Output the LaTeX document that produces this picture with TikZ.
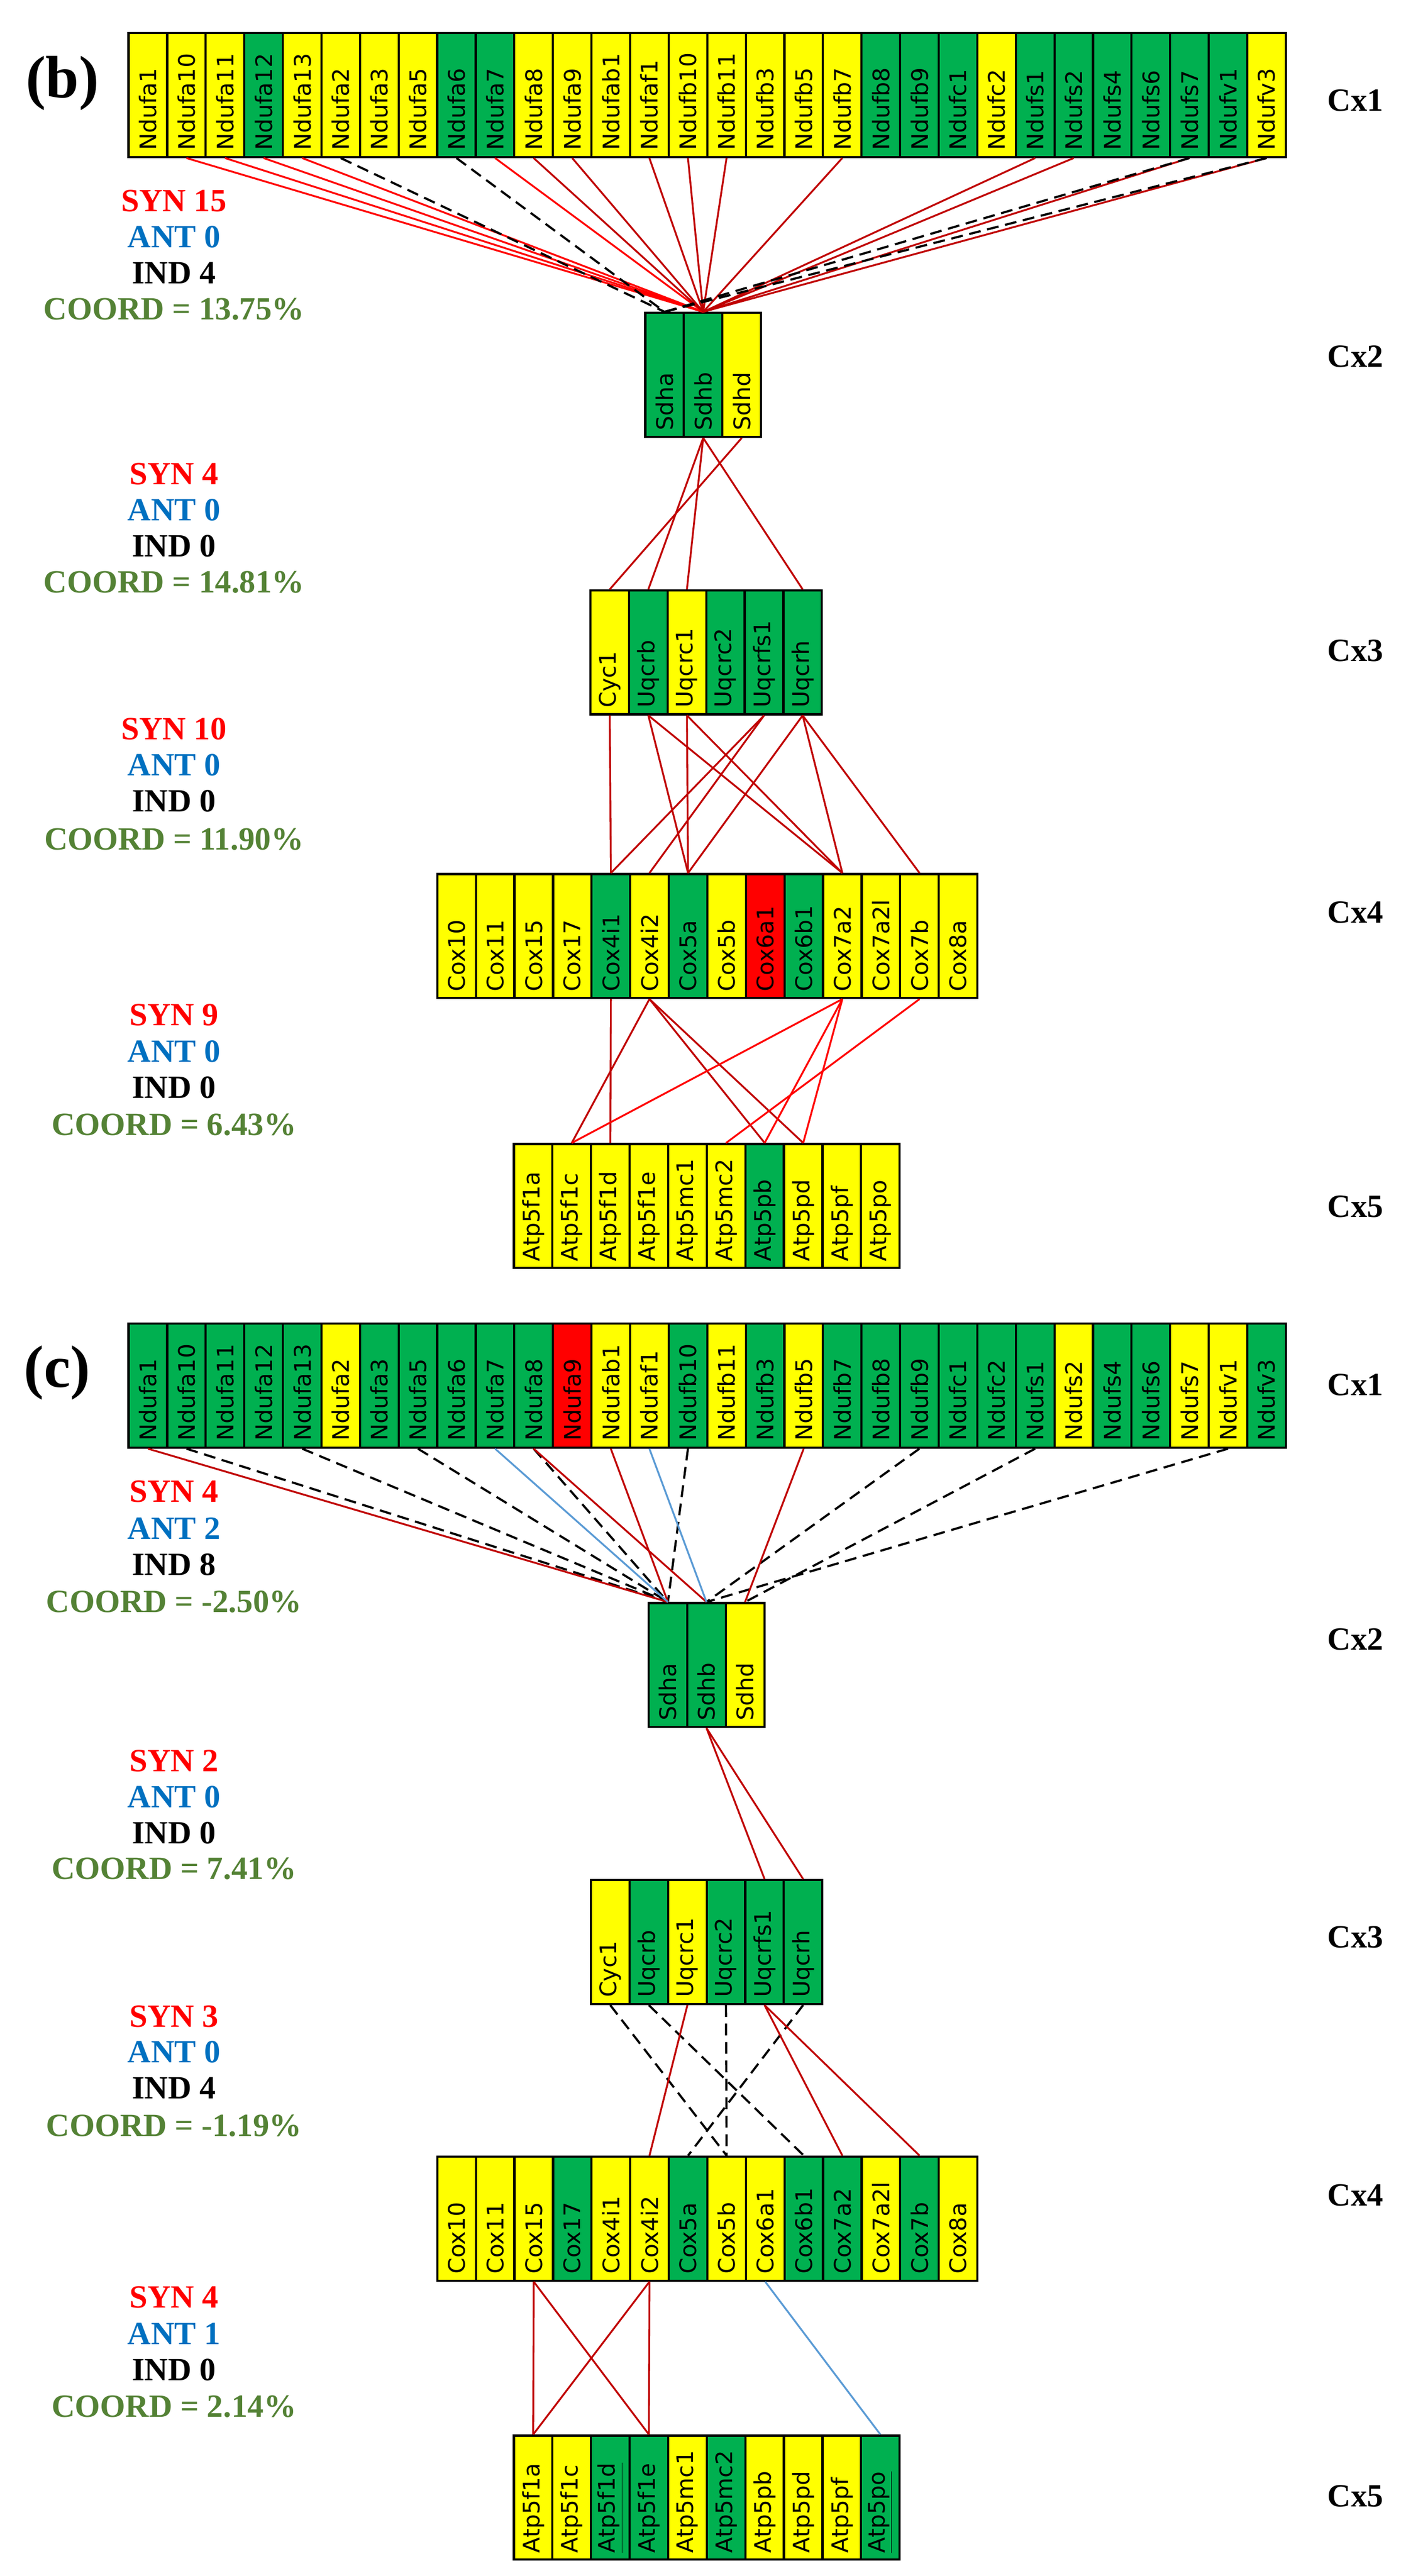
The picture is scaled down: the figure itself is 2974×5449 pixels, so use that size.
\documentclass[tikz,border=0pt]{standalone}
\usepackage{fontspec}
\setmainfont{Liberation Serif}
\newfontfamily\cellfont{DejaVu Sans}
\begin{document}
\definecolor{cY}{HTML}{FFFF00}
\definecolor{cG}{HTML}{00B050}
\definecolor{cR}{HTML}{FF0000}
\definecolor{dRed}{HTML}{C00000}
\definecolor{bRed}{HTML}{FF0000}
\definecolor{antB}{HTML}{5B9BD5}
\definecolor{antT}{HTML}{0070C0}
\definecolor{coordG}{HTML}{548235}
\newcommand\cxrow[4]{%
  \foreach \col/\lab [count=\i] in {#4} {
    \node[cell,fill=\col] (#1-\i) at ({#2+81.6*(\i-0.5)},{#3+131}) {\rotatebox{90}{\makebox[2.34cm][l]{\lab}}};
  }}
\begin{tikzpicture}[x=0.01cm,y=-0.01cm,
  cell/.style={draw,line width=1.3pt,minimum width=0.816cm,minimum height=2.62cm,inner sep=0pt,
    font=\cellfont\fontsize{13.7}{15}\selectfont},
  stat/.style={font=\bfseries\fontsize{19.5}{22}\selectfont,inner sep=0pt},
  cx/.style={font=\bfseries\fontsize{19.5}{22}\selectfont,inner sep=0pt},
  panel/.style={font=\bfseries\fontsize{36}{40}\selectfont,inner sep=0pt},
  syn/.style={dRed,line width=1.1pt},
  synb/.style={bRed,line width=1.1pt},
  ant/.style={antB,line width=1.1pt},
  ind/.style={black,line width=1.3pt,dash pattern=on 0.25cm off 0.14cm}]
\useasboundingbox (0,0) rectangle (2974,5449);

% ---------------- panel (b) ----------------
\node[panel] (pb) at (132,176) {(b)};
\cxrow{b1}{272}{70}{cY/Ndufa1,cY/Ndufa10,cY/Ndufa11,cG/Ndufa12,cY/Ndufa13,cY/Ndufa2,cY/Ndufa3,cY/Ndufa5,cG/Ndufa6,cG/Ndufa7,cY/Ndufa8,cY/Ndufa9,cY/Ndufab1,cY/Ndufaf1,cY/Ndufb10,cY/Ndufb11,cY/Ndufb3,cY/Ndufb5,cY/Ndufb7,cG/Ndufb8,cG/Ndufb9,cG/Ndufc1,cY/Ndufc2,cG/Ndufs1,cG/Ndufs2,cG/Ndufs4,cG/Ndufs6,cG/Ndufs7,cG/Ndufv1,cY/Ndufv3}
\cxrow{b2}{1365}{662}{cG/Sdha,cG/Sdhb,cY/Sdhd}
\cxrow{b3}{1249}{1249}{cY/Cyc1,cG/Uqcrb,cY/Uqcrc1,cG/Uqcrc2,cG/Uqcrfs1,cG/Uqcrh}
\cxrow{b4}{925}{1849}{cY/Cox10,cY/Cox11,cY/Cox15,cY/Cox17,cG/Cox4i1,cY/Cox4i2,cG/Cox5a,cY/Cox5b,cR/Cox6a1,cG/Cox6b1,cY/Cox7a2,cY/Cox7a2l,cY/Cox7b,cY/Cox8a}
\cxrow{b5}{1087}{2420}{cY/Atp5f1a,cY/Atp5f1c,cY/Atp5f1d,cY/Atp5f1e,cY/Atp5mc1,cY/Atp5mc2,cG/Atp5pb,cY/Atp5pd,cY/Atp5pf,cY/Atp5po}

\foreach \k in {2,3,4,5,10} \draw[synb] (b1-\k.south) -- (b2-2.north);
\foreach \k in {11,12,14,15,16,19,24,25,28,30} \draw[syn] (b1-\k.south) -- (b2-2.north);
\foreach \k in {6,9,28,30} \draw[ind] (b1-\k.south) -- (b2-1.north);

\draw[syn] (b2-3.south) -- (b3-1.north);
\foreach \k in {2,3,6} \draw[syn] (b2-2.south) -- (b3-\k.north);

\draw[syn] (b3-1.south) -- (b4-5.north);
\foreach \a/\b in {2/7,2/11,3/7,3/11,5/5,5/6,6/7,6/11,6/13} \draw[syn] (b3-\a.south) -- (b4-\b.north);

\draw[syn] (b4-5.south) -- (b5-3.north);
\foreach \k in {2,7,8} \draw[syn] (b4-6.south) -- (b5-\k.north);
\foreach \k in {2,7,8} \draw[synb] (b4-11.south) -- (b5-\k.north);
\draw[synb] (b4-13.south) -- (b5-6.north);

\node[stat,text=bRed] (bs1) at (368,425) {SYN 15};
\node[stat,text=antT] (ba1) at (368,501) {ANT 0};
\node[stat] (bi1) at (368,577) {IND 4};
\node[stat,text=coordG] (bc1) at (368,654) {COORD = 13.75\%};
\node[stat,text=bRed] (bs2) at (368,1003) {SYN 4};
\node[stat,text=antT] (ba2) at (368,1079) {ANT 0};
\node[stat] (bi2) at (368,1155) {IND 0};
\node[stat,text=coordG] (bc2) at (368,1231) {COORD = 14.81\%};
\node[stat,text=bRed] (bs3) at (368,1542) {SYN 10};
\node[stat,text=antT] (ba3) at (368,1618) {ANT 0};
\node[stat] (bi3) at (368,1694) {IND 0};
\node[stat,text=coordG] (bc3) at (368,1775) {COORD = 11.90\%};
\node[stat,text=bRed] (bs4) at (368,2147) {SYN 9};
\node[stat,text=antT] (ba4) at (368,2224) {ANT 0};
\node[stat] (bi4) at (368,2300) {IND 0};
\node[stat,text=coordG] (bc4) at (368,2379) {COORD = 6.43\%};

\node[cx] (bx1) at (2867,213) {Cx1};
\node[cx] (bx2) at (2867,754) {Cx2};
\node[cx] (bx3) at (2867,1376) {Cx3};
\node[cx] (bx4) at (2867,1930) {Cx4};
\node[cx] (bx5) at (2867,2552) {Cx5};

% ---------------- panel (c) ----------------
\node[panel] (pc) at (121,2904) {(c)};
\cxrow{c1}{272}{2800}{cG/Ndufa1,cG/Ndufa10,cG/Ndufa11,cG/Ndufa12,cG/Ndufa13,cY/Ndufa2,cG/Ndufa3,cG/Ndufa5,cG/Ndufa6,cG/Ndufa7,cG/Ndufa8,cR/Ndufa9,cY/Ndufab1,cY/Ndufaf1,cG/Ndufb10,cY/Ndufb11,cG/Ndufb3,cY/Ndufb5,cG/Ndufb7,cG/Ndufb8,cG/Ndufb9,cG/Ndufc1,cG/Ndufc2,cG/Ndufs1,cY/Ndufs2,cG/Ndufs4,cG/Ndufs6,cY/Ndufs7,cY/Ndufv1,cG/Ndufv3}
\cxrow{c2}{1372}{3391}{cG/Sdha,cG/Sdhb,cY/Sdhd}
\cxrow{c3}{1250}{3977}{cY/Cyc1,cG/Uqcrb,cY/Uqcrc1,cG/Uqcrc2,cG/Uqcrfs1,cG/Uqcrh}
\cxrow{c4}{925}{4562}{cY/Cox10,cY/Cox11,cY/Cox15,cG/Cox17,cY/Cox4i1,cY/Cox4i2,cG/Cox5a,cY/Cox5b,cY/Cox6a1,cG/Cox6b1,cG/Cox7a2,cY/Cox7a2l,cG/Cox7b,cY/Cox8a}
\cxrow{c5}{1087}{5152}{cY/Atp5f1a,cY/Atp5f1c,cG/{\underline{Atp5f1d}},cG/Atp5f1e,cY/Atp5mc1,cG/Atp5mc2,cY/Atp5pb,cY/Atp5pd,cY/Atp5pf,cG/{\underline{Atp5po}}}

\foreach \k in {2,5,8,11,15} \draw[ind] (c1-\k.south) -- (c2-1.north);
\foreach \k in {21,29} \draw[ind] (c1-\k.south) -- (c2-2.north);
\draw[ind] (c1-24.south) -- (c2-3.north);
\foreach \k in {1,13} \draw[syn] (c1-\k.south) -- (c2-1.north);
\draw[syn] (c1-11.south) -- (c2-2.north);
\draw[syn] (c1-18.south) -- (c2-3.north);
\draw[ant] (c1-10.south) -- (c2-1.north);
\draw[ant] (c1-14.south) -- (c2-2.north);

\foreach \k in {5,6} \draw[syn] (c2-2.south) -- (c3-\k.north);

\foreach \a/\b in {1/8,2/10,4/8,6/7} \draw[ind] (c3-\a.south) -- (c4-\b.north);
\foreach \a/\b in {3/6,5/11,5/13} \draw[syn] (c3-\a.south) -- (c4-\b.north);

\foreach \a/\b in {3/1,3/4,6/1,6/4} \draw[syn] (c4-\a.south) -- (c5-\b.north);
\draw[ant] (c4-9.south) -- (c5-10.north);

\node[stat,text=bRed] (cs1) at (368,3155) {SYN 4};
\node[stat,text=antT] (ca1) at (368,3233) {ANT 2};
\node[stat] (ci1) at (368,3310) {IND 8};
\node[stat,text=coordG] (cc1) at (368,3388) {COORD = -2.50\%};
\node[stat,text=bRed] (cs2) at (368,3725) {SYN 2};
\node[stat,text=antT] (ca2) at (368,3801) {ANT 0};
\node[stat] (ci2) at (368,3877) {IND 0};
\node[stat,text=coordG] (cc2) at (368,3953) {COORD = 7.41\%};
\node[stat,text=bRed] (cs3) at (368,4265) {SYN 3};
\node[stat,text=antT] (ca3) at (368,4341) {ANT 0};
\node[stat] (ci3) at (368,4417) {IND 4};
\node[stat,text=coordG] (cc3) at (368,4496) {COORD = -1.19\%};
\node[stat,text=bRed] (cs4) at (368,4859) {SYN 4};
\node[stat,text=antT] (ca4) at (368,4936) {ANT 1};
\node[stat] (ci4) at (368,5013) {IND 0};
\node[stat,text=coordG] (cc4) at (368,5090) {COORD = 2.14\%};

\node[cx] (cx1) at (2867,2929) {Cx1};
\node[cx] (cx2) at (2867,3468) {Cx2};
\node[cx] (cx3) at (2867,4098) {Cx3};
\node[cx] (cx4) at (2867,4644) {Cx4};
\node[cx] (cx5) at (2867,5280) {Cx5};
\end{tikzpicture}
\end{document}
